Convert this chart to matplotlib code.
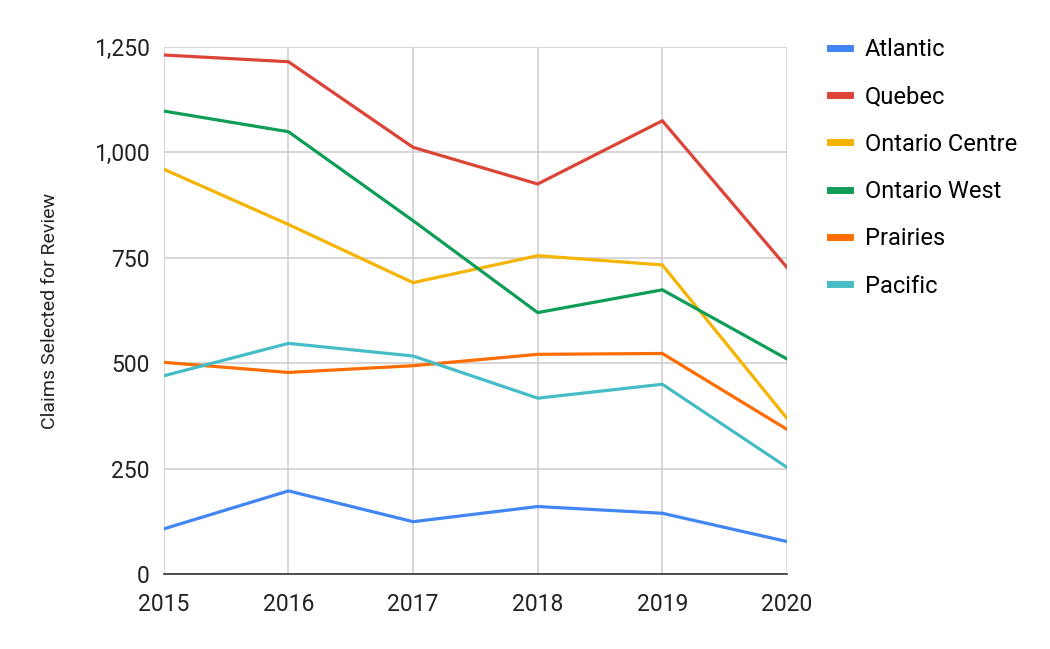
import matplotlib
matplotlib.use('Agg')
from matplotlib import pyplot as plt
from matplotlib.ticker import FuncFormatter

# data
years = [2015, 2016, 2017, 2018, 2019, 2020]
atlantic = [107, 197, 124, 160, 144, 77]
quebec = [1231, 1215, 1012, 925, 1075, 727]
ontario_centre = [960, 829, 691, 755, 733, 369]
ontario_west = [1098, 1049, 838, 620, 674, 510]
prairies = [502, 478, 494, 521, 523, 343]
pacific = [470, 547, 517, 417, 450, 253]

series = [
    ('Atlantic', atlantic, '#4285F4'),
    ('Quebec', quebec, '#DB4437'),
    ('Ontario Centre', ontario_centre, '#F4B400'),
    ('Ontario West', ontario_west, '#0F9D58'),
    ('Prairies', prairies, '#FF6D01'),
    ('Pacific', pacific, '#46BDC6'),
]

plt.rcParams['font.family'] = ['Roboto', 'DejaVu Sans']

fig = plt.figure(figsize=(10.5, 6.49), dpi=100)
ax = fig.add_axes([0.156, 0.1156, 0.5935, 0.812])

for name, vals, col in series:
    ax.plot(years, vals, color=col, lw=2.3, label=name, solid_joinstyle='miter')

ax.set_xlim(2015, 2020)
ax.set_ylim(0, 1250)
ax.set_xticks(years)
ax.set_yticks([0, 250, 500, 750, 1000, 1250])
ax.yaxis.set_major_formatter(FuncFormatter(lambda v, p: f'{int(v):,}'))
ax.grid(True, color='#cccccc', lw=1.1)
ax.set_axisbelow(True)
for s in ['top', 'right', 'left']:
    ax.spines[s].set_visible(False)
ax.spines['bottom'].set_color('#333333')
ax.spines['bottom'].set_linewidth(1.2)
ax.tick_params(length=0, labelsize=16.5, colors='#222222')
ax.tick_params(axis='x', pad=14)
ax.tick_params(axis='y', pad=10)
ax.set_ylabel('Claims Selected for Review', fontsize=14, color='#222222', labelpad=25)

leg = fig.legend(loc='upper left', bbox_to_anchor=(0.770, 0.974), frameon=False,
                 fontsize=17, handlelength=0.85, handletextpad=0.64,
                 labelspacing=1.03)
for h in leg.get_lines():
    h.set_linewidth(5)

fig.savefig('out.png', dpi=100)
